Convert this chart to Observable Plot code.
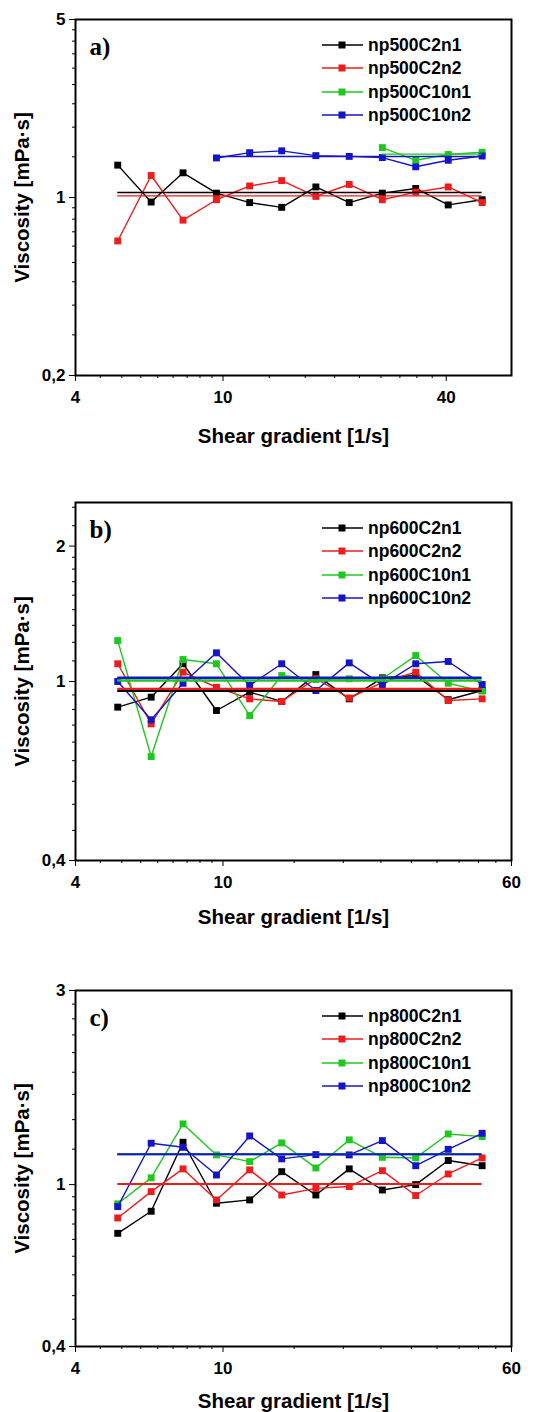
<!DOCTYPE html>
<html><head><meta charset="utf-8">
<script src="https://cdn.jsdelivr.net/npm/d3@7"></script>
<script src="https://cdn.jsdelivr.net/npm/@observablehq/plot@0.6"></script>
<style>
body{margin:0;background:#fff;}
#root{width:533px;}
.panel{position:relative;width:533px;}
.panel svg.plot{position:absolute;left:0;top:0;}
.row{position:absolute;height:20px;white-space:nowrap;font:bold 17.5px "Liberation Sans",Arial,sans-serif;color:#000;}
.row svg{position:absolute;left:0;top:0;}
.row span{position:absolute;left:46px;top:0;line-height:20px;}
</style></head><body><div id="root"></div>
<script>
// shared shear-gradient values [1/s]
const shear = [5.2, 6.4, 7.8, 9.6, 11.8, 14.4, 17.8, 21.9, 26.9, 33.1, 40.5, 50];
const colors = ["#000000", "#ee1c1c", "#1ec81e", "#1414c8"];

// panel a) np500
const aNames = ["np500C2n1", "np500C2n2", "np500C10n1", "np500C10n2"];
const a_C2n1  = [1.34, 0.96, 1.25, 1.04, 0.955, 0.915, 1.10, 0.955, 1.04, 1.085, 0.935, 0.98];
const a_C2n2  = [0.675, 1.22, 0.815, 0.98, 1.11, 1.165, 1.01, 1.125, 0.98, 1.05, 1.10, 0.955];
const a_C10n1 = [null, null, null, null, null, null, null, null, 1.57, 1.40, 1.475, 1.505];
const a_C10n2 = [null, null, null, 1.43, 1.50, 1.525, 1.46, 1.45, 1.435, 1.32, 1.40, 1.455];
const a_means = [1.046, 1.015, 1.48, 1.449];
const a_yTicks = [0.2, 1, 5];
const a_xTicks = [4, 10, 40];

// panel b) np600
const bNames = ["np600C2n1", "np600C2n2", "np600C10n1", "np600C10n2"];
const b_C2n1  = [0.877, 0.923, 1.095, 0.862, 0.947, 0.903, 1.036, 0.915, 1.019, 1.031, 0.911, 0.955];
const b_C2n2  = [1.095, 0.805, 1.049, 0.971, 0.915, 0.903, 1.015, 0.919, 0.996, 1.049, 0.907, 0.915];
const b_C10n1 = [1.233, 0.681, 1.119, 1.095, 0.840, 1.031, 1.010, 1.014, 1.014, 1.142, 0.991, 0.952];
const b_C10n2 = [1.0, 0.822, 0.991, 1.158, 0.980, 1.095, 0.955, 1.100, 0.983, 1.095, 1.108, 0.985];
const b_means = [0.953, 0.963, 1.005, 1.019];
const b_yTicks = [0.4, 1, 2];
const b_xTicks = [4, 10, 60];

// panel c) np800
const cNames = ["np800C2n1", "np800C2n2", "np800C10n1", "np800C10n2"];
const c_C2n1  = [0.759, 0.860, 1.271, 0.900, 0.917, 1.076, 0.943, 1.093, 0.970, 1.0, 1.146, 1.113];
const c_C2n2  = [0.828, 0.961, 1.093, 0.917, 1.087, 0.943, 0.979, 0.989, 1.082, 0.940, 1.062, 1.163];
const c_C10n1 = [0.897, 1.039, 1.410, 1.183, 1.139, 1.266, 1.099, 1.288, 1.167, 1.163, 1.332, 1.312];
const c_C10n2 = [0.883, 1.264, 1.235, 1.056, 1.317, 1.157, 1.185, 1.183, 1.283, 1.113, 1.221, 1.337];
const c_means = [null, 1.004, 1.187, 1.187];
const c_yTicks = [0.4, 1, 3];
const c_xTicks = [4, 10, 60];

// 8 linear minor ticks between consecutive major ticks (Origin style)
function minors(majors, extra) {
  const out = [];
  for (let i = 0; i < majors.length - 1; i++) {
    const step = (majors[i + 1] - majors[i]) / 9;
    for (let k = 1; k <= 8; k++) out.push(majors[i] + k * step);
  }
  return out.concat(extra || []);
}
const fmt = d => String(d).replace(".", ",");

function panel(cfg) {
  const {height, mt, mb, yDomain, yTicks, yExtraMinor, xTicks, names, series, means, letter, meanWidth, xLabelOffset} = cfg;
  const marks = [];
  series.forEach((vals, i) => {
    const pts = [];
    vals.forEach((v, j) => { if (v != null) pts.push({x: shear[j], y: v}); });
    marks.push(Plot.line(pts, {x: "x", y: "y", stroke: colors[i], strokeWidth: 1.4}));
    marks.push(Plot.dot(pts, {x: "x", y: "y", symbol: "square", r: 3.9, fill: colors[i], stroke: "none"}));
  });
  series.forEach((vals, i) => {
    if (means[i] == null) return;
    const idx = vals.map((v, j) => v == null ? -1 : j).filter(j => j >= 0);
    marks.push(Plot.ruleY([{y: means[i], x1: shear[idx[0]], x2: shear[idx[idx.length - 1]]}],
      {y: "y", x1: "x1", x2: "x2", stroke: colors[i], strokeWidth: meanWidth}));
  });
  marks.push(Plot.frame({stroke: "#000", strokeWidth: 2}));
  marks.push(Plot.axisX(xTicks, {tickSize: 6, tickFormat: () => "", label: null}));
  marks.push(Plot.text(xTicks, {x: d => d, frameAnchor: "bottom", dy: 22, text: fmt, lineAnchor: "middle", textAnchor: "middle", fontSize: 17, fontWeight: "bold"}));
  marks.push(Plot.axisX(minors(xTicks), {tickSize: 3, tickFormat: () => "", label: null}));
  marks.push(Plot.axisY(yTicks, {tickSize: 6, tickPadding: 4, tickFormat: fmt, label: null, fontSize: 17, fontWeight: "bold"}));
  marks.push(Plot.axisY(minors(yTicks, yExtraMinor), {tickSize: 3, tickFormat: () => "", label: null}));
  marks.push(Plot.text([letter], {frameAnchor: "top-left", dx: 14, dy: 27, textAnchor: "start", lineAnchor: "middle",
    fontFamily: "Liberation Serif", fontSize: 25, fontWeight: "bold"}));
  marks.push(Plot.text(["Shear gradient [1/s]"], {frameAnchor: "bottom", dy: xLabelOffset, lineAnchor: "middle", fontSize: 20.5, fontWeight: "bold"}));
  marks.push(Plot.text(["Viscosity [mPa·s]"], {frameAnchor: "left", dx: -53, rotate: -90, textAnchor: "middle", lineAnchor: "middle", fontSize: 20.5, fontWeight: "bold"}));

  const chart = Plot.plot({
    width: 533, height,
    marginLeft: 75, marginRight: 22, marginTop: mt, marginBottom: mb,
    x: {type: "log", domain: [4, 60]},
    y: {type: "log", domain: yDomain},
    style: {fontFamily: "'Liberation Sans', Arial, sans-serif", fontSize: "17px", fontWeight: "bold", color: "#000", background: "transparent", overflow: "visible"},
    marks
  });

  const div = document.createElement("div");
  div.className = "panel";
  div.style.height = height + "px";
  div.appendChild(chart);
  const rowOffsets = [26, 49.3, 72.7, 96];
  names.forEach((n, i) => {
    const row = document.createElement("div");
    row.className = "row";
    row.style.left = "322px";
    row.style.top = (mt + rowOffsets[i] - 10) + "px";
    row.innerHTML = `<svg width="42" height="20"><line x1="0" y1="10" x2="41" y2="10" stroke="${colors[i]}" stroke-width="1.5"/><rect x="16.5" y="6.5" width="7" height="7" fill="${colors[i]}"/></svg><span>${n}</span>`;
    div.appendChild(row);
  });
  return div;
}

const root = document.getElementById("root");
root.appendChild(panel({height: 460, mt: 19, mb: 85, yDomain: [0.2, 5], yTicks: a_yTicks, xTicks: a_xTicks,
  names: aNames, series: [a_C2n1, a_C2n2, a_C10n1, a_C10n2], means: a_means, letter: "a)", meanWidth: 1.4, xLabelOffset: 61}));
root.appendChild(panel({height: 470, mt: 42, mb: 70, yDomain: [0.4, 2.5], yTicks: b_yTicks, yExtraMinor: [2.22, 2.44], xTicks: b_xTicks,
  names: bNames, series: [b_C2n1, b_C2n2, b_C10n1, b_C10n2], means: b_means, letter: "b)", meanWidth: 2.4, xLabelOffset: 57}));
root.appendChild(panel({height: 482, mt: 60, mb: 66, yDomain: [0.4, 3], yTicks: c_yTicks, xTicks: c_xTicks,
  names: cNames, series: [c_C2n1, c_C2n2, c_C10n1, c_C10n2], means: c_means, letter: "c)", meanWidth: 2, xLabelOffset: 55}));
</script>
</body></html>
